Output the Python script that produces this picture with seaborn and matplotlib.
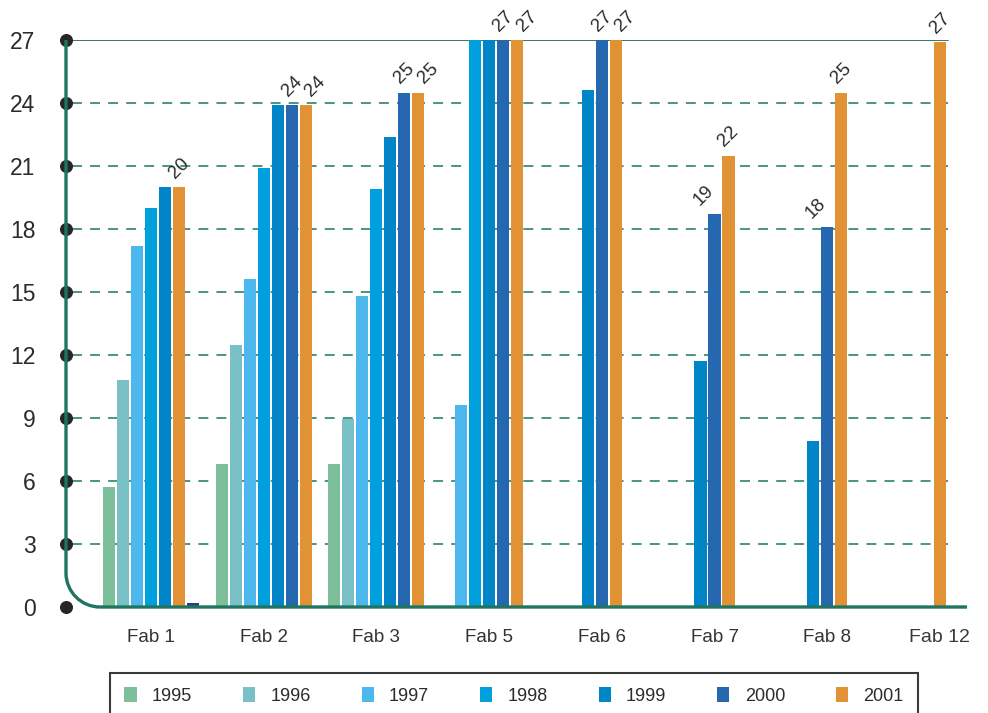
import numpy as np
import pandas as pd
import matplotlib
matplotlib.use("Agg")
import matplotlib.pyplot as plt
import seaborn as sns
from matplotlib.path import Path
from matplotlib.patches import PathPatch, Patch
from matplotlib.transforms import IdentityTransform

# ---------------- data ----------------
fabs = ["Fab 1", "Fab 2", "Fab 3", "Fab 5", "Fab 6", "Fab 7", "Fab 8", "Fab 12"]
years = ["1995", "1996", "1997", "1998", "1999", "2000", "2001"]
v1995 = [5.7, 6.8, 6.8, None, None, None, None, None]
v1996 = [10.8, 12.5, 8.95, None, None, None, None, None]
v1997 = [17.2, 15.6, 14.8, 9.6, None, None, None, None]
v1998 = [19.0, 20.9, 19.9, 27.0, None, None, None, None]
v1999 = [20.0, 23.9, 22.4, 27.0, 24.6, 11.7, 7.9, None]
v2000 = [20.0, 23.9, 24.5, 27.0, 27.0, 18.7, 18.1, None]
v2001 = [0.2, 23.9, 24.5, 27.0, 27.0, 21.5, 24.5, 26.9]
yticks = [0, 3, 6, 9, 12, 15, 18, 21, 24, 27]
labelled_years = ["2000", "2001"]

colors = {"1995": "#7DBE9B", "1996": "#79C1C7", "1997": "#4DB8EE",
          "1998": "#009FDE", "1999": "#0086C8", "2000": "#2568B0",
          "2001": "#E09234"}
fab1_colors = {"2000": "#E09234", "2001": "#2E3A8C"}  # as drawn in the source

series = dict(zip(years, [v1995, v1996, v1997, v1998, v1999, v2000, v2001]))

# ---------------- geometry ----------------
W, H = 988, 713
L, R, T, B = 66, 967, 40, 607          # axes box in pixels (from top)
cat_px = 112.7                           # pixels per category
first_cat_px = 151
xmin = -(first_cat_px - L) / cat_px
xmax = xmin + (R - L) / cat_px
step = 14 / cat_px                       # bar pitch in data units

rows = []
for ci, fab in enumerate(fabs):
    present = [y for y in years if series[y][ci] is not None]
    n = len(present)
    for k, y in enumerate(present):
        rows.append({"fab": fab, "ci": ci, "year": y, "value": series[y][ci],
                     "xpos": ci + (k - (n - 1) / 2) * step})
df = pd.DataFrame(rows)

# ---------------- plot ----------------
sns.set_theme(style="white")
font = ["Liberation Sans", "DejaVu Sans"]
plt.rcParams["font.family"] = font

fig = plt.figure(figsize=(W / 100, H / 100), dpi=100)
ax = fig.add_axes([L / W, (H - B) / H, (R - L) / W, (B - T) / H])

sns.barplot(data=df, x="xpos", y="value", hue="year", hue_order=years,
            palette=colors, native_scale=True, dodge=False, width=0.86,
            saturation=1, errorbar=None, legend=False, linewidth=0, ax=ax,
            zorder=3)

# recolour Fab 1's last two bars as in the source
for _, r in df[df["fab"] == "Fab 1"].iterrows():
    if r["year"] in fab1_colors:
        for p in ax.patches:
            if abs(p.get_x() + p.get_width() / 2 - r["xpos"]) < 1e-6:
                p.set_facecolor(fab1_colors[r["year"]])

ax.set_xlim(xmin, xmax)
ax.set_ylim(0, 27)
for s in ax.spines.values():
    s.set_visible(False)
ax.set_xlabel("")
ax.set_ylabel("")

# gridlines
grid_end = (948 - L) / (R - L)
grid_start = (72 - L) / (R - L)
for t in yticks[1:-1]:
    ax.axhline(t, xmin=grid_start, xmax=grid_end, color="#3C8C76",
               lw=1.3, ls=(0, (5.5, 4.5)), zorder=1)
ax.axhline(27, xmin=0, xmax=grid_end, color="#2B6B58", lw=1.3, zorder=1)

# ticks
ax.set_yticks(yticks)
ax.set_yticklabels([str(t) for t in yticks])
ax.tick_params(axis="y", length=0, pad=22, labelsize=16.5, labelcolor="#2b2b2b")
ax.set_xticks(range(len(fabs)))
ax.set_xticklabels(fabs)
ax.tick_params(axis="x", length=0, pad=16, labelsize=13.5, labelcolor="#333333")
lab12 = ax.get_xticklabels()[-1]
lab12.set_fontsize(14)
lab12.set_color("#3a3a3a")

# dots on the y axis
ax.scatter([xmin] * len(yticks), yticks, s=70, color="#262626",
           clip_on=False, zorder=10)

# value labels
for _, r in df[df["year"].isin(labelled_years)].iterrows():
    v = r["value"]
    if v < 1:
        continue
    ci = r["ci"]
    dx = 0
    other_2000 = series["2000"][ci]
    other_2001 = series["2001"][ci]
    if r["year"] == "2000" and other_2001 is not None and other_2001 > v + 1:
        dx = -8
    if (r["year"] == "2001" and other_2000 is not None
            and abs(other_2000 - v) < 1):
        dx = 7
    ax.annotate(str(int(v + 0.5)), (r["xpos"], v), xytext=(dx, 4),
                textcoords="offset points", ha="center", va="bottom",
                rotation=45, fontsize=13.5, color="#2b2b2b",
                annotation_clip=False, zorder=6)

# rounded axis line (left + bottom)
rad = 34
k = 0.5523 * rad
def P(x, y):
    return (x, H - y)
verts = [P(L, T), P(L, B - rad), P(L, B - rad + k), P(L + rad - k, B),
         P(L + rad, B), P(R, B)]
codes = [Path.MOVETO, Path.LINETO, Path.CURVE4, Path.CURVE4, Path.CURVE4,
         Path.LINETO]
fig.add_artist(PathPatch(Path(verts, codes), transform=IdentityTransform(),
                         facecolor="none", edgecolor="#1E7560", lw=2.4,
                         zorder=8))

# legend
handles = [Patch(facecolor=colors[y], edgecolor="none", label=y) for y in years]
leg = fig.legend(handles=handles, loc="upper left", ncol=7, mode="expand",
                 bbox_to_anchor=(110 / W, (H - 673 - 40) / H, 808 / W, 40 / H),
                 fontsize=13, frameon=True, fancybox=False, framealpha=1,
                 edgecolor="#3a3a3a", borderpad=0.8, handlelength=0.67,
                 handleheight=0.85, handletextpad=0.85, borderaxespad=0)
leg.get_frame().set_linewidth(1.5)
for t in leg.get_texts():
    t.set_color("#2b2b2b")

fig.savefig("out.png", dpi=100, facecolor="white")
